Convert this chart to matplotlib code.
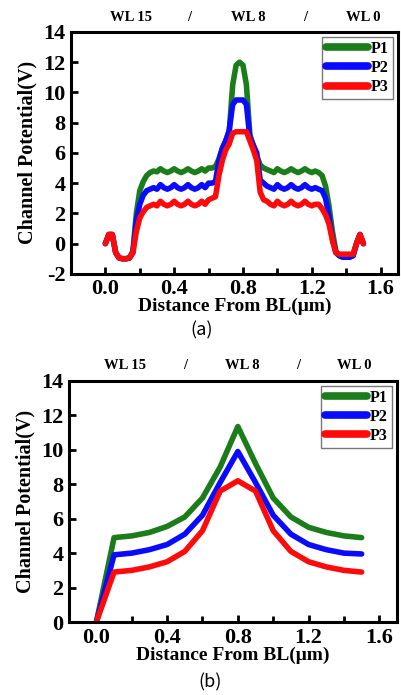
import numpy as np
import matplotlib
matplotlib.use("Agg")
import matplotlib.pyplot as plt
from matplotlib.ticker import MultipleLocator

plt.rcParams['font.family'] = ['Liberation Serif', 'DejaVu Serif']
plt.rcParams['font.weight'] = 'bold'
plt.rcParams['axes.labelweight'] = 'bold'

# (a) channel potential along the string, 0.02 um steps
x_a = [round(0.02 * i, 2) for i in range(76)]
p1_a = [0.0, 0.6, 0.6, -0.6, -0.95, -1.0, -1.0, -0.95, -0.5, 2.0,
        3.5, 4.1, 4.5, 4.7, 4.8, 4.75, 4.95, 4.8, 4.7, 4.8,
        4.95, 4.8, 4.7, 4.8, 4.95, 4.8, 4.7, 4.8, 4.95, 4.8,
        5.0, 5.0, 5.1, 5.6, 6.3, 6.8, 7.4, 10.5, 11.8, 12.0,
        11.8, 10.5, 7.2, 6.5, 5.8, 5.2, 5.0, 4.9, 4.8, 4.7,
        4.95, 4.8, 4.7, 4.8, 4.95, 4.8, 4.7, 4.8, 4.95, 4.8,
        4.7, 4.8, 4.7, 4.5, 3.8, 2.5, 0.8, -0.5, -0.8, -0.9,
        -0.9, -0.9, -0.8, 0.0, 0.6, 0.0]
p2_a = [0.0, 0.6, 0.6, -0.6, -0.95, -1.0, -1.0, -0.95, -0.6, 1.5,
        2.6, 3.2, 3.5, 3.6, 3.7, 3.6, 3.9, 3.7, 3.6, 3.7,
        3.9, 3.7, 3.6, 3.7, 3.9, 3.7, 3.6, 3.7, 3.9, 3.7,
        4.0, 4.0, 4.1, 5.5, 6.3, 6.8, 7.5, 9.2, 9.5, 9.5,
        9.5, 9.2, 7.0, 6.5, 6.0, 4.2, 4.0, 3.8, 3.7, 3.6,
        3.9, 3.7, 3.6, 3.7, 3.9, 3.7, 3.6, 3.7, 3.9, 3.7,
        3.6, 3.7, 3.6, 3.5, 3.0, 1.8, 0.3, -0.6, -0.8, -0.9,
        -0.9, -0.9, -0.8, 0.0, 0.6, 0.0]
p3_a = [0.0, 0.6, 0.6, -0.6, -0.95, -1.0, -1.0, -0.95, -0.6, 0.8,
        1.7, 2.1, 2.4, 2.5, 2.6, 2.5, 2.8, 2.6, 2.5, 2.6,
        2.8, 2.6, 2.5, 2.6, 2.8, 2.6, 2.5, 2.6, 2.8, 2.6,
        2.9, 3.0, 3.1, 4.5, 5.5, 6.2, 6.6, 7.3, 7.4, 7.4,
        7.4, 7.4, 6.8, 6.2, 5.5, 3.4, 2.9, 2.8, 2.6, 2.5,
        2.8, 2.6, 2.5, 2.6, 2.8, 2.6, 2.5, 2.6, 2.8, 2.6,
        2.5, 2.6, 2.6, 2.3, 1.9, 1.3, 0.2, -0.6, -0.7, -0.7,
        -0.7, -0.7, -0.7, 0.0, 0.6, 0.0]

# (b)
x_b = [0.0, 0.1, 0.2, 0.3, 0.4, 0.5, 0.6, 0.7, 0.8, 0.9, 1.0, 1.1, 1.2, 1.3, 1.4, 1.5]
p1_b = [0.0, 4.9, 5.0, 5.2, 5.55, 6.1, 7.2, 9.0, 11.35, 9.2, 7.2, 6.1, 5.5, 5.2, 5.0, 4.9]
p2_b = [0.0, 3.9, 4.0, 4.2, 4.5, 5.1, 6.2, 8.1, 9.9, 8.1, 6.2, 5.1, 4.5, 4.2, 4.0, 3.95]
p3_b = [0.0, 2.9, 3.0, 3.2, 3.5, 4.1, 5.3, 7.6, 8.2, 7.6, 5.3, 4.1, 3.5, 3.2, 3.0, 2.9]

series_names = ['P1', 'P2', 'P3']
colors = ['#1a7d1a', '#0a0aff', '#ff0a0a']
wl_labels = ['WL 15', '/', 'WL 8', '/', 'WL 0']


def draw_panel(ax, x, ys, xlim, ylim, wl_pos, caption, cap_pos):
    for y, name, c in zip(ys, series_names, colors):
        ax.plot(x, y, color=c, lw=4, label=name,
                solid_joinstyle='round', solid_capstyle='round')
    ax.set_xlim(*xlim)
    ax.set_ylim(*ylim)
    ax.xaxis.set_major_locator(MultipleLocator(0.4))
    ax.xaxis.set_minor_locator(MultipleLocator(0.2))
    ax.yaxis.set_major_locator(MultipleLocator(2))
    ax.tick_params(axis='both', which='both', direction='in', top=False, right=False,
                   labelsize=16, width=2, pad=4)
    ax.tick_params(which='major', length=5)
    ax.tick_params(which='minor', length=4)
    ax.xaxis.set_major_formatter(matplotlib.ticker.FormatStrFormatter('%.1f'))
    ax.yaxis.set_major_formatter(matplotlib.ticker.FormatStrFormatter('%d'))
    for s in ax.spines.values():
        s.set_linewidth(2.2)
    ax.set_xlabel('Distance From BL(μm)', fontsize=14, labelpad=-1)
    ax.set_ylabel('Channel Potential(V)', fontsize=14.5, labelpad=4)
    leg = ax.legend(loc='upper right', fontsize=11.5, handlelength=2.6,
                    borderaxespad=0.3, borderpad=0.25, labelspacing=0.2,
                    handletextpad=0.2, fancybox=False, edgecolor='#555555')
    for h in leg.get_lines():
        h.set_linewidth(5.5)
    leg.get_frame().set_linewidth(1)
    for lab, xp in zip(wl_labels, wl_pos):
        ax.text(xp, 1.035, lab, transform=ax.get_xaxis_transform(),
                ha='center', va='bottom', fontsize=10.5)
    ax.text(cap_pos[0], cap_pos[1], caption, transform=ax.transAxes,
            ha='center', va='center', fontsize=13, fontweight='light',
            family=['Noto Sans CJK KR', 'DejaVu Sans'])


fig = plt.figure(figsize=(4.01, 6.95), dpi=100)
ax1 = fig.add_axes([0.177, 0.606, 0.815, 0.348])
ax2 = fig.add_axes([0.172, 0.105, 0.818, 0.347])

draw_panel(ax1, x_a, [p1_a, p2_a, p3_a], (-0.2, 1.7), (-2, 14),
           [0.15, 0.49, 0.83, 1.16, 1.5], '(a)', (0.40, -0.235))
draw_panel(ax2, x_b, [p1_b, p2_b, p3_b], (-0.155, 1.7), (0, 14),
           [0.16, 0.5, 0.825, 1.14, 1.46], '(b)', (0.43, -0.25))

fig.savefig('out.png', dpi=100)
